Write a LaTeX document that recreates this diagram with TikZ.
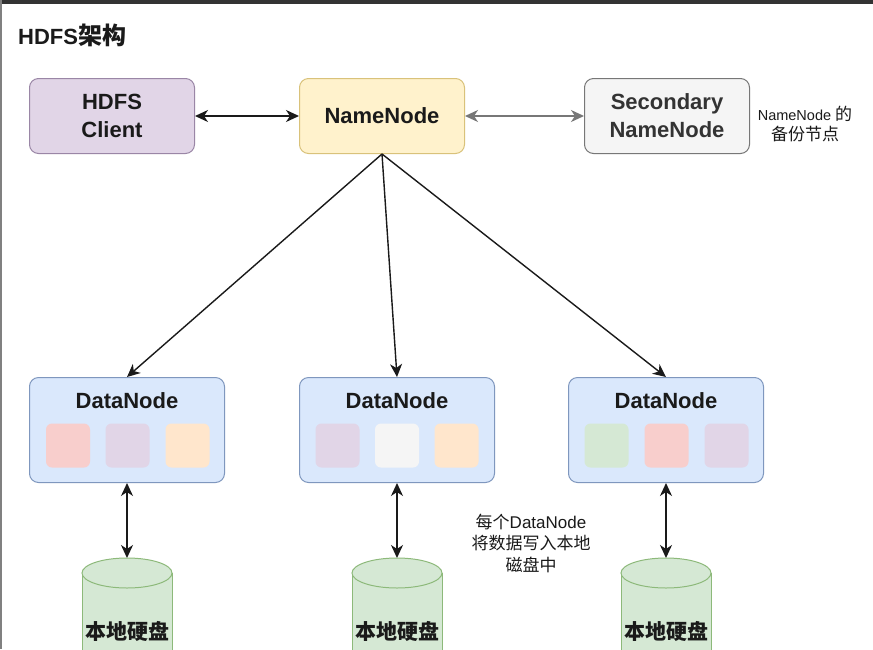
\documentclass[tikz,border=0pt]{standalone}
\usepackage{fontspec}
\setmainfont{Liberation Sans}
\newfontfamily\cjk{Noto Sans CJK SC}
\usetikzlibrary{arrows.meta}
\definecolor{purpleF}{HTML}{E1D5E7}
\definecolor{purpleS}{HTML}{9A86A6}
\definecolor{yellowF}{HTML}{FFF2CC}
\definecolor{yellowS}{HTML}{D9C27A}
\definecolor{grayF}{HTML}{F5F5F5}
\definecolor{grayS}{HTML}{777777}
\definecolor{blueF}{HTML}{DAE8FC}
\definecolor{blueS}{HTML}{7F97BE}
\definecolor{greenF}{HTML}{D5E8D4}
\definecolor{greenS}{HTML}{8DB97A}
\definecolor{redF}{HTML}{F8CECC}
\definecolor{orangeF}{HTML}{FFE6CC}
\definecolor{txt}{HTML}{1A1A1A}
\definecolor{txtgray}{HTML}{333333}
\begin{document}
\begin{tikzpicture}[x=1pt,y=-1pt,
  box/.style={draw, rounded corners=9pt, line width=1pt, align=center, inner sep=0pt},
  lbl/.style={font=\fontsize{22}{28}\selectfont\bfseries, text=txt, align=center},
  arr/.style={{Stealth[length=13pt,width=12pt,inset=4pt]}-{Stealth[length=13pt,width=12pt,inset=4pt]}, line width=1.6pt, draw=txt},
  onearr/.style={-{Stealth[length=13pt,width=12pt,inset=4pt]}, line width=1.4pt, draw=txt},
  sq/.style={minimum size=44pt, rounded corners=6pt, inner sep=0pt},
  dnbox/.style={box, fill=blueF, draw=blueS, minimum width=195pt, minimum height=105pt},
  disk/.style={fill=greenF, draw=greenS, line width=1pt},
  disklbl/.style={font=\fontsize{21}{21}\selectfont\bfseries\cjk, text=txt},
  note/.style={align=center, text=txt}
]
\useasboundingbox (0,0) rectangle (873,649);
\clip (0,0) rectangle (873,649);
\fill[white] (0,0) rectangle (873,649);
\fill[black!80] (0,0) rectangle (873,4);
\fill[black!50] (0,0) rectangle (2,649);

% title
\node[anchor=west, font=\fontsize{22}{26}\selectfont\bfseries, text=txt, inner sep=0pt] (title) at (18,35) {HDFS{\fontsize{24}{26}\selectfont\cjk 架构}};

% top row
\node[box, fill=purpleF, draw=purpleS, minimum width=165pt, minimum height=75pt, lbl] (client) at (112,116) {HDFS\\Client};
\node[box, fill=yellowF, draw=yellowS, minimum width=165pt, minimum height=75pt, lbl] (nn) at (382,116) {NameNode};
\node[box, fill=grayF, draw=grayS, minimum width=165pt, minimum height=75pt, lbl, text=txtgray] (sec) at (667,116) {Secondary\\NameNode};
\node[note, font=\fontsize{14.5}{20}\selectfont] (note1) at (805,124) {NameNode {\fontsize{17}{20}\selectfont\cjk 的}\\{\fontsize{17}{20}\selectfont\cjk 备份节点}};

\draw[arr] (client) -- (nn);
\draw[arr, draw=grayS] (nn) -- (sec);

% data nodes
\node[dnbox] (dn1) at (127,430) {};
\node[dnbox] (dn2) at (397,430) {};
\node[dnbox] (dn3) at (666,430) {};
\node[lbl] (dn1t) at (127,401) {DataNode};
\node[lbl] (dn2t) at (397,401) {DataNode};
\node[lbl] (dn3t) at (666,401) {DataNode};

\node[sq, fill=redF] (dn1a) at (68,445.5) {};
\node[sq, fill=purpleF] (dn1b) at (127.5,445.5) {};
\node[sq, fill=orangeF] (dn1c) at (187.5,445.5) {};
\node[sq, fill=purpleF] (dn2a) at (337.5,445.5) {};
\node[sq, fill=grayF] (dn2b) at (397,445.5) {};
\node[sq, fill=orangeF] (dn2c) at (456.5,445.5) {};
\node[sq, fill=greenF] (dn3a) at (606.5,445.5) {};
\node[sq, fill=redF] (dn3b) at (666.5,445.5) {};
\node[sq, fill=purpleF] (dn3c) at (726.5,445.5) {};

\draw[onearr] (nn.south) -- (dn1.north);
\draw[onearr] (nn.south) -- (dn2.north);
\draw[onearr] (nn.south) -- (dn3.north);

% disks
\foreach \cx/\nm in {127/c1, 397/c2, 666/c3} {
  \fill[greenF] (\cx-45,573) rectangle (\cx+45,700);
  \draw[greenS, line width=1pt] (\cx-45,573) -- (\cx-45,700);
  \draw[greenS, line width=1pt] (\cx+45,573) -- (\cx+45,700);
  \draw[disk] (\cx,573) ellipse [x radius=45, y radius=15];
  \coordinate (\nm) at (\cx,558);
}
\node[disklbl] (c1l) at (127,631) {本地硬盘};
\node[disklbl] (c2l) at (397,631) {本地硬盘};
\node[disklbl] (c3l) at (666,631) {本地硬盘};

\draw[arr] (dn1.south) -- (c1);
\draw[arr] (dn2.south) -- (c2);
\draw[arr] (dn3.south) -- (c3);

\node[note, font=\fontsize{17}{21.5}\selectfont] (note2) at (531,543) {{\cjk 每个}DataNode\\{\cjk 将数据写入本地}\\{\cjk 磁盘中}};
\end{tikzpicture}
\end{document}
